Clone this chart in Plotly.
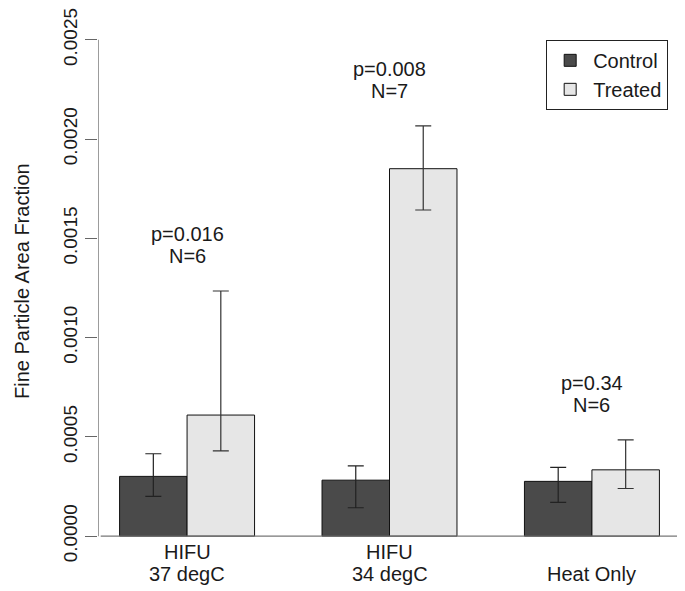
import plotly.graph_objects as go

# ---- data ----
groups = ["HIFU\n37 degC", "HIFU\n34 degC", "Heat Only"]
series_names = ["Control", "Treated"]
control_mean = [0.000301, 0.000282, 0.000276]
control_upper = [0.000415, 0.000354, 0.000346]
control_lower = [0.000200, 0.000143, 0.000170]
treated_mean = [0.000610, 0.001851, 0.000334]
treated_upper = [0.001235, 0.002067, 0.000485]
treated_lower = [0.000430, 0.001643, 0.000240]
p_labels = ["p=0.016", "p=0.008", "p=0.34"]
n_labels = ["N=6", "N=7", "N=6"]
y_ticks = [0.0, 0.0005, 0.0010, 0.0015, 0.0020, 0.0025]
y_tick_text = ["0.0000", "0.0005", "0.0010", "0.0015", "0.0020", "0.0025"]

FONT = "Liberation Sans, Arial, sans-serif"
TXT = "#1a1a1a"
FS = 20

# R barplot style layout: each group = 2 bars of width 1, gap of 1 before group
centers = [2 + 3 * i for i in range(len(groups))]
x_ctrl = [c - 0.5 for c in centers]
x_trt = [c + 0.5 for c in centers]

fig = go.Figure()
fig.add_trace(go.Bar(
    x=x_ctrl, y=control_mean, width=1, name=series_names[0],
    marker=dict(color="#4a4a4a", line=dict(color="#111111", width=1)),
    error_y=dict(type="data", symmetric=False,
                 array=[u - m for u, m in zip(control_upper, control_mean)],
                 arrayminus=[m - l for m, l in zip(control_mean, control_lower)],
                 color="#222222", thickness=1.2, width=8),
))
fig.add_trace(go.Bar(
    x=x_trt, y=treated_mean, width=1, name=series_names[1],
    marker=dict(color="#e6e6e6", line=dict(color="#111111", width=1)),
    error_y=dict(type="data", symmetric=False,
                 array=[u - m for u, m in zip(treated_upper, treated_mean)],
                 arrayminus=[m - l for m, l in zip(treated_mean, treated_lower)],
                 color="#333333", thickness=1.2, width=8),
))

annotations = []
# p / N labels above treated upper error
for c, up, p, n in zip(centers, treated_upper, p_labels, n_labels):
    yc = up + 0.00023
    annotations.append(dict(x=c, y=yc, xref="x", yref="y", text=p, showarrow=False,
                            yshift=11.5, font=dict(family=FONT, size=FS, color=TXT)))
    annotations.append(dict(x=c, y=yc, xref="x", yref="y", text=n, showarrow=False,
                            yshift=-11, font=dict(family=FONT, size=FS, color=TXT)))
# category labels (multi-line, bottom-aligned)
for c, g in zip(centers, groups):
    lines = g.split("\n")
    for k, line in enumerate(reversed(lines)):
        annotations.append(dict(x=c, y=0, xref="x", yref="y", text=line, showarrow=False,
                                yshift=-38 + 22 * k,
                                font=dict(family=FONT, size=FS, color=TXT)))
# y-axis title
annotations.append(dict(x=0, y=0.513, xref="paper", yref="paper",
                        text="Fine Particle Area Fraction", textangle=-90,
                        showarrow=False, xshift=-89,
                        font=dict(family=FONT, size=FS, color=TXT)))

shapes = [
    dict(type="line", xref="x", yref="y", x0=0.68, x1=0.68, y0=y_ticks[0], y1=y_ticks[-1],
         line=dict(color="#666666", width=1.3)),
    dict(type="line", xref="x", yref="y", x0=0.72, x1=9.27, y0=0, y1=0,
         line=dict(color="#777777", width=1.3)),
]

# page body has an 8px margin, so the figure is slightly smaller and offset
fig.update_layout(
    width=677, height=583,
    margin=dict(l=90, r=4, t=12, b=35, autoexpand=False),
    paper_bgcolor="white", plot_bgcolor="white",
    barmode="overlay",
    showlegend=True,
    legend=dict(x=0.978, y=0.963, xanchor="right", yanchor="top",
                bordercolor="#222222", borderwidth=1, bgcolor="white",
                font=dict(family=FONT, size=FS, color=TXT),
                tracegroupgap=0, itemwidth=36),
    xaxis=dict(range=[0.68, 9.32], showgrid=False, zeroline=False, showline=False,
               showticklabels=False, ticks="", automargin=False),
    yaxis=dict(range=[-0.0001, 0.0026], showgrid=False, zeroline=False, showline=False,
               tickmode="array", tickvals=y_ticks, ticktext=y_tick_text,
               ticks="outside", ticklen=12, tickcolor="#666666", tickwidth=1.3,
               tickangle=-90, automargin=False, ticklabeloverflow="allow",
               tickfont=dict(family=FONT, size=19, color=TXT)),
    annotations=annotations,
    shapes=shapes,
)

fig.write_html("out.html")
